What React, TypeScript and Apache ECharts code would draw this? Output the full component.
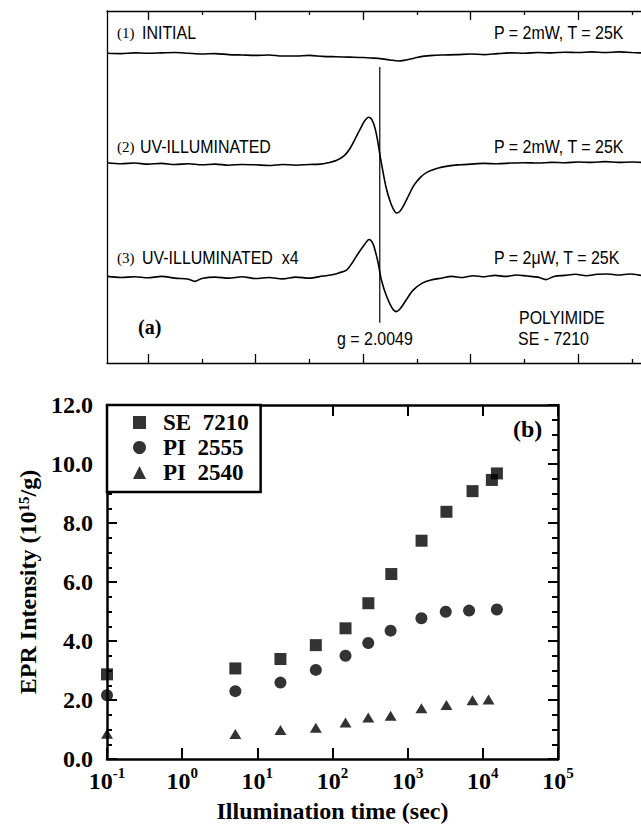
import React, { useEffect, useRef } from "react";
import * as echarts from "echarts";

// ---------- Panel (a): EPR spectra (field in tick units, signal in arbitrary units) ----------
const spec1Field = [-7.6, -5, -2.5, 0, 2.5, 5, 7.5, 10, 12.5, 15, 17.5, 20, 22.5, 25, 27.5, 30, 32.5, 35, 37.5, 40, 42, 43.5, 45, 46.5, 48, 49.5, 51, 53, 55, 57.5, 60, 62.5, 65, 67.5, 70, 72.5, 75, 77.5, 80, 82.5, 85, 87.5, 90, 91.67];
const spec1Signal = [88.0, 87.9, 88.1, 88.0, 88.1, 88.2, 88.0, 87.8, 87.9, 87.6, 87.5, 87.4, 87.5, 87.2, 87.2, 87.4, 87.1, 87.0, 86.9, 86.8, 86.6, 86.4, 86.1, 85.8, 86.1, 86.6, 87.1, 87.4, 87.5, 87.6, 87.8, 87.6, 87.9, 88.1, 88.0, 88.2, 88.1, 88.3, 88.2, 88.4, 88.2, 88.4, 88.2, 88.1];

const spec2Field = [-7.6, -5, -2.5, 0, 2.5, 5, 7.5, 10, 12.5, 15, 17.5, 20, 22.5, 25, 27.5, 30, 32, 33.5, 35, 36.5, 37.5, 38.5, 39.5, 40.3, 41.0, 41.6, 42.2, 42.7, 43.2, 43.7, 44.3, 45.0, 45.6, 46.2, 46.9, 47.6, 48.5, 49.5, 50.7, 52, 54, 56, 58, 60, 62.5, 65, 67.5, 70, 72.5, 75, 77.5, 80, 82.5, 85, 87.5, 90, 91.67];
const spec2Signal = [56.9, 56.6, 56.8, 56.5, 56.7, 56.4, 56.6, 56.3, 56.5, 56.2, 56.4, 56.3, 56.1, 56.4, 56.2, 56.4, 56.5, 56.9, 57.5, 58.9, 60.8, 63.6, 66.6, 68.8, 69.8, 69.2, 66.8, 63.2, 58.5, 54.3, 49.7, 46.0, 43.8, 42.6, 43.2, 44.9, 47.7, 50.6, 52.8, 54.3, 55.4, 56.0, 56.3, 56.5, 56.7, 56.6, 56.8, 56.9, 56.8, 57.0, 56.9, 57.1, 57.0, 57.2, 57.0, 57.1, 57.0];

const spec3Field = [-7.6, -5, -2.5, 0, 2.5, 5, 7.5, 8.7, 10, 12.5, 15, 17.5, 20, 22.5, 25, 27.5, 30, 32.5, 34, 35.5, 36.9, 38, 38.9, 40.2, 41.1, 41.8, 42.4, 42.8, 43.4, 44.4, 45.4, 46.2, 47.0, 48.0, 49.3, 51, 52.6, 54.5, 56.5, 58.5, 60.5, 62.5, 64.5, 66.5, 68.5, 70.5, 72.5, 74, 75.5, 77.5, 79.5, 81.5, 83.5, 85.5, 87.5, 89.5, 91.67];
const spec3Signal = [24.6, 24.3, 24.5, 24.2, 24.6, 24.1, 23.8, 23.2, 24.0, 24.4, 24.1, 24.5, 24.0, 24.3, 23.9, 24.4, 24.1, 24.7, 25.0, 25.6, 26.4, 28.5, 30.7, 33.5, 35.1, 34.0, 31.0, 28.4, 23.6, 18.8, 15.6, 14.6, 15.6, 17.9, 20.7, 22.7, 23.6, 24.1, 24.6, 24.3, 24.8, 24.5, 24.9, 24.6, 25.0, 24.7, 24.4, 23.7, 24.6, 24.9, 25.2, 24.8, 25.2, 25.3, 25.0, 25.3, 24.9];

const gMarkerField = [43.1, 43.1];
const gMarkerSignal = [84.1, 11.4];

const aMajorTicks = [0, 20, 40, 60, 80];
const aMinorTicks = [10, 30, 50, 70, 90];

// ---------- Panel (b): EPR intensity vs illumination time ----------
const seTime = [0.1, 5.1, 20.3, 60, 149, 300, 606, 1530, 3280, 7290, 13180, 15400];
const seIntensity = [2.87, 3.07, 3.39, 3.86, 4.43, 5.28, 6.27, 7.4, 8.38, 9.08, 9.46, 9.68];

const pi2555Time = [0.1, 5.1, 20.3, 60, 149, 299, 593, 1524, 3210, 6560, 15370];
const pi2555Intensity = [2.16, 2.3, 2.59, 3.02, 3.5, 3.93, 4.35, 4.77, 4.99, 5.03, 5.07];

const pi2540Time = [0.1, 5.1, 20.3, 60, 149, 299, 593, 1524, 3280, 7290, 11900];
const pi2540Intensity = [0.86, 0.85, 0.98, 1.06, 1.24, 1.41, 1.47, 1.72, 1.83, 1.99, 2.02];

const seriesNames = ["SE\u00a0\u00a07210", "PI\u00a0\u00a02555", "PI\u00a0\u00a02540"];

const SERIF = "'Liberation Serif', 'Times New Roman', 'DejaVu Serif', serif";
const SANS = "'Liberation Sans', Arial, sans-serif";

const zip = (xs: number[], ys: number[]) => xs.map((x, i) => [x, ys[i]]);

export default function App() {
  const ref = useRef<HTMLDivElement>(null);

  useEffect(() => {
    const chart = echarts.init(ref.current!, null, { renderer: "svg" });
    const black = "#000";
    const thinLine = { color: black, width: 1.3 };
    const thickLine = { color: black, width: 2.5 };

    const supLabel = (v: number) => {
      const e = Math.round(Math.log10(v));
      return `{b|10}{s|${e}}`;
    };
    const supRich = {
      b: { fontFamily: SERIF, fontWeight: "bold", fontSize: 24, color: black, lineHeight: 28, verticalAlign: "bottom" },
      s: { fontFamily: SERIF, fontWeight: "bold", fontSize: 15, color: black, lineHeight: 14, verticalAlign: "top" },
    };

    const numText = (x: number, y: number, text: string) => ({
      type: "text",
      x,
      y,
      style: { text, fontFamily: SERIF, fontSize: 15, fill: black, verticalAlign: "middle" },
    });
    const sansText = (x: number, y: number, text: string) => ({
      type: "text",
      x,
      y,
      scaleX: 0.84,
      style: { text, fontFamily: SANS, fontSize: 19, fill: black, verticalAlign: "middle" },
    });

    const aXAxis = (position: string, ticks: number[], len: number, showLine: boolean) => ({
      gridIndex: 0,
      type: "value",
      min: -7.62,
      max: 91.67,
      position,
      axisLine: { show: showLine, onZero: false, lineStyle: thinLine },
      axisTick: { show: true, inside: true, length: len, customValues: ticks, lineStyle: thinLine },
      axisLabel: { show: false },
      splitLine: { show: false },
    });

    const option = {
      animation: false,
      backgroundColor: "#fff",
      grid: [
        { left: 107, top: 11, right: 0, bottom: 462 },
        { left: 107, top: 405, right: 83, bottom: 66 },
      ],
      xAxis: [
        aXAxis("bottom", aMajorTicks, 9, true),
        aXAxis("bottom", aMinorTicks, 4, false),
        aXAxis("top", aMajorTicks, 9, true),
        aXAxis("top", aMinorTicks, 4, false),
        {
          gridIndex: 1,
          type: "log",
          logBase: 10,
          min: 0.1,
          max: 100000,
          splitNumber: 6,
          position: "bottom",
          axisLine: { show: true, onZero: false, lineStyle: thickLine },
          axisTick: { show: true, inside: true, length: 11, lineStyle: { color: black, width: 2 } },
          minorTick: { show: false },
          axisLabel: { formatter: supLabel, margin: 6, rich: supRich },
          splitLine: { show: false },
          name: "Illumination time (sec)",
          nameLocation: "middle",
          nameGap: 40,
          nameTextStyle: { fontFamily: SERIF, fontWeight: "bold", fontSize: 24, color: black },
        },
        {
          gridIndex: 1,
          type: "log",
          logBase: 10,
          min: 0.1,
          max: 100000,
          splitNumber: 6,
          position: "top",
          axisLine: { show: true, onZero: false, lineStyle: thickLine },
          axisTick: { show: true, inside: true, length: 11, lineStyle: { color: black, width: 2 } },
          minorTick: { show: false },
          axisLabel: { show: false },
          splitLine: { show: false },
        },
      ],
      yAxis: [
        {
          gridIndex: 0,
          type: "value",
          min: 0,
          max: 100,
          axisLine: { show: true, onZero: false, lineStyle: thinLine },
          axisTick: { show: false },
          axisLabel: { show: false },
          splitLine: { show: false },
        },
        {
          gridIndex: 1,
          type: "value",
          min: 0,
          max: 12,
          interval: 2,
          position: "left",
          axisLine: { show: true, onZero: false, lineStyle: thickLine },
          axisTick: { show: true, inside: true, length: 10, lineStyle: { color: black, width: 2 } },
          minorTick: { show: true, splitNumber: 4, length: 5, lineStyle: { color: black, width: 2 } },
          axisLabel: {
            formatter: (v: number) => v.toFixed(1),
            margin: 14,
            fontFamily: SERIF,
            fontWeight: "bold",
            fontSize: 24,
            color: black,
          },
          splitLine: { show: false },
          name: "EPR Intensity (10{s|15}/g)",
          nameLocation: "middle",
          nameGap: 66,
          nameTextStyle: {
            fontFamily: SERIF,
            fontWeight: "bold",
            fontSize: 24,
            color: black,
            rich: {
              s: { fontFamily: SERIF, fontWeight: "bold", fontSize: 15, color: black, verticalAlign: "top", lineHeight: 14 },
            },
          },
        },
        {
          gridIndex: 1,
          type: "value",
          min: 0,
          max: 12,
          interval: 2,
          position: "right",
          axisLine: { show: true, onZero: false, lineStyle: thickLine },
          axisTick: { show: true, inside: true, length: 10, lineStyle: { color: black, width: 2 } },
          minorTick: { show: true, splitNumber: 4, length: 6, lineStyle: { color: black, width: 2 } },
          axisLabel: { show: false },
          splitLine: { show: false },
        },
      ],
      legend: {
        left: 107,
        top: 405,
        orient: "vertical",
        data: seriesNames,
        selectedMode: false,
        backgroundColor: "#fff",
        borderColor: black,
        borderWidth: 2.5,
        borderRadius: 0,
        padding: [6, 12, 8, 26],
        itemWidth: 13,
        itemHeight: 13,
        itemGap: 2,
        textStyle: {
          fontFamily: SERIF,
          fontWeight: "bold",
          fontSize: 23,
          color: black,
          lineHeight: 22,
          padding: [0, 0, 0, 12],
        },
      },
      graphic: [
        numText(117, 33, "(1)"),
        sansText(142, 33, "INITIAL"),
        numText(117, 147, "(2)"),
        sansText(140, 147, "UV-ILLUMINATED"),
        numText(117, 258, "(3)"),
        sansText(142, 258, "UV-ILLUMINATED\u00a0\u00a0x4"),
        sansText(494, 33, "P = 2mW, T = 25K"),
        sansText(494, 147, "P = 2mW, T = 25K"),
        sansText(494, 258, "P = 2\u03bcW, T = 25K"),
        sansText(519, 318, "POLYIMIDE"),
        sansText(518, 339, "SE - 7210"),
        sansText(337, 339, "g = 2.0049"),
        {
          type: "text",
          x: 138,
          y: 327,
          style: { text: "(a)", fontFamily: SERIF, fontWeight: "bold", fontSize: 20, fill: black, verticalAlign: "middle" },
        },
        {
          type: "text",
          x: 513,
          y: 429,
          z: 10,
          style: { text: "(b)", fontFamily: SERIF, fontWeight: "bold", fontSize: 24, fill: black, verticalAlign: "middle" },
        },
      ],
      series: [
        { type: "line", xAxisIndex: 0, yAxisIndex: 0, data: zip(spec1Field, spec1Signal), symbol: "none", smooth: 0.3, lineStyle: { color: black, width: 1.6 }, silent: true },
        { type: "line", xAxisIndex: 0, yAxisIndex: 0, data: zip(spec2Field, spec2Signal), symbol: "none", smooth: 0.3, lineStyle: { color: black, width: 1.6 }, silent: true },
        { type: "line", xAxisIndex: 0, yAxisIndex: 0, data: zip(spec3Field, spec3Signal), symbol: "none", smooth: 0.3, lineStyle: { color: black, width: 1.6 }, silent: true },
        { type: "line", xAxisIndex: 0, yAxisIndex: 0, data: zip(gMarkerField, gMarkerSignal), symbol: "none", lineStyle: { color: black, width: 1.2 }, silent: true },
        {
          name: seriesNames[0],
          type: "scatter",
          xAxisIndex: 4,
          yAxisIndex: 1,
          data: zip(seTime, seIntensity),
          symbol: "rect",
          symbolSize: 12,
          clip: false,
          itemStyle: { color: black },
        },
        {
          name: seriesNames[1],
          type: "scatter",
          xAxisIndex: 4,
          yAxisIndex: 1,
          data: zip(pi2555Time, pi2555Intensity),
          symbol: "circle",
          symbolSize: 12,
          clip: false,
          itemStyle: { color: black },
        },
        {
          name: seriesNames[2],
          type: "scatter",
          xAxisIndex: 4,
          yAxisIndex: 1,
          data: zip(pi2540Time, pi2540Intensity),
          symbol: "triangle",
          symbolSize: [12, 10],
          clip: false,
          itemStyle: { color: black },
        },
      ],
    };

    chart.setOption(option as any);
    return () => chart.dispose();
  }, []);

  return <div ref={ref} style={{ position: "absolute", left: 0, top: 0, width: 641, height: 825 }} />;
}
